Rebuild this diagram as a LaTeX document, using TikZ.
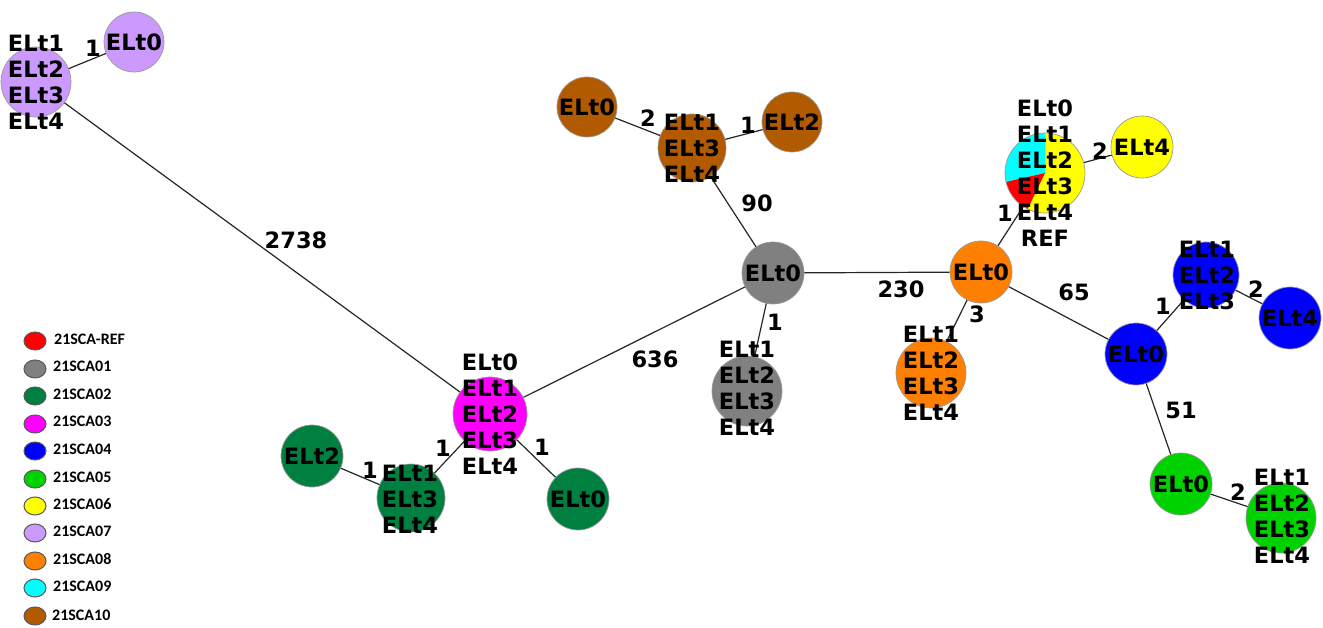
\documentclass[tikz,border=0pt]{standalone}
\usepackage{fontspec}
\setmainfont{DejaVu Sans}
\newfontfamily\legfont{Carlito}
\usetikzlibrary{shapes.geometric}
\definecolor{clilac}{RGB}{204,153,255}
\definecolor{cbrown}{RGB}{178,90,0}
\definecolor{cgray}{RGB}{128,128,128}
\definecolor{corange}{RGB}{255,128,0}
\definecolor{cyellow}{RGB}{255,255,0}
\definecolor{ccyan}{RGB}{0,255,255}
\definecolor{cred}{RGB}{255,0,0}
\definecolor{cmagenta}{RGB}{255,0,255}
\definecolor{cdgreen}{RGB}{0,128,64}
\definecolor{cblue}{RGB}{0,0,255}
\definecolor{clime}{RGB}{0,210,0}
\begin{document}
\begin{tikzpicture}[x=1pt,y=-1pt,
  nd/.style={circle, draw=black!40, line width=0.7pt, inner sep=0pt, minimum size=#1},
  txt/.style={font=\bfseries\fontsize{22.5}{26}\selectfont, align=center, inner sep=0pt},
  lbl/.style={font=\bfseries\fontsize{22.5}{26}\selectfont, inner sep=0pt},
  edge/.style={draw=black!85, line width=1.2pt},
  lg/.style={ellipse, draw=black!65, line width=1pt, minimum width=22pt, minimum height=18pt, inner sep=0pt},
  lgt/.style={font=\legfont\bfseries\fontsize{16}{18}\selectfont, anchor=west, inner sep=0pt}]
\useasboundingbox[fill=white] (0,0) rectangle (1323,628);

% pie slices
\coordinate (pc) at (1045,173);
\fill[cyellow] (pc) -- ++(-115.7:40pt) arc[start angle=-115.7, end angle=90, radius=40pt] -- cycle;
\fill[ccyan] (pc) -- ++(90:40pt) arc[start angle=90, end angle=192.9, radius=40pt] -- cycle;
\fill[cred] (pc) -- ++(192.9:40pt) arc[start angle=192.9, end angle=244.3, radius=40pt] -- cycle;

% circles
\node[nd=60pt, fill=clilac] (lilA) at (134,42) {};
\node[nd=70pt, fill=clilac] (lilB) at (36,82) {};
\node[nd=60pt, fill=cbrown] (brA) at (587,107) {};
\node[nd=68pt, fill=cbrown] (brB) at (692,148) {};
\node[nd=60pt, fill=cbrown] (brC) at (792,122) {};
\node[nd=62pt, fill=cgray] (grA) at (773,273) {};
\node[nd=70pt, fill=cgray] (grB) at (747,391) {};
\node[nd=62pt, fill=corange] (orA) at (981,272) {};
\node[nd=70pt, fill=corange] (orB) at (931,373) {};
\node[nd=80pt] (pie) at (pc) {};
\node[nd=62pt, fill=cyellow] (yeA) at (1142,147) {};
\node[nd=74pt, fill=cmagenta] (mag) at (490,414) {};
\node[nd=62pt, fill=cdgreen] (dgA) at (312,456) {};
\node[nd=68pt, fill=cdgreen] (dgB) at (411,498) {};
\node[nd=62pt, fill=cdgreen] (dgC) at (578,499) {};
\node[nd=62pt, fill=cblue] (blA) at (1136,354) {};
\node[nd=66pt, fill=cblue] (blB) at (1206,275) {};
\node[nd=62pt, fill=cblue] (blC) at (1290,318) {};
\node[nd=62pt, fill=clime] (liA) at (1181,484) {};
\node[nd=70pt, fill=clime] (liB) at (1281,518) {};

% edges
\draw[edge] (lilB) -- (lilA);
\draw[edge] (lilB) -- (mag);
\draw[edge] (mag) -- (grA);
\draw[edge] (mag) -- (dgB);
\draw[edge] (mag) -- (dgC);
\draw[edge] (dgB) -- (dgA);
\draw[edge] (grA) -- (brB);
\draw[edge] (brB) -- (brA);
\draw[edge] (brB) -- (brC);
\draw[edge] (grA) -- (grB);
\draw[edge] (grA) -- (orA);
\draw[edge] (orA) -- (orB);
\draw[edge] (orA) -- (pie);
\draw[edge] (pie) -- (yeA);
\draw[edge] (orA) -- (blA);
\draw[edge] (blA) -- (blB);
\draw[edge] (blB) -- (blC);
\draw[edge] (blA) -- (liA);
\draw[edge] (liA) -- (liB);

% node texts
\node[txt] (tlilA) at (134,42) {ELt0};
\node[txt] (tlilB) at (36,82) {ELt1\\ELt2\\ELt3\\ELt4};
\node[txt] (tbrA) at (587,107) {ELt0};
\node[txt] (tbrB) at (692,148) {ELt1\\ELt3\\ELt4};
\node[txt] (tbrC) at (792,122) {ELt2};
\node[txt] (tgrA) at (773,273) {ELt0};
\node[txt] (tgrB) at (747,388) {ELt1\\ELt2\\ELt3\\ELt4};
\node[txt] (torA) at (981,272) {ELt0};
\node[txt] (torB) at (931,373) {ELt1\\ELt2\\ELt3\\ELt4};
\node[txt] (tpie) at (1045,173) {ELt0\\ELt1\\ELt2\\ELt3\\ELt4\\REF};
\node[txt] (tyeA) at (1142,147) {ELt4};
\node[txt] (tmag) at (490,414) {ELt0\\ELt1\\ELt2\\ELt3\\ELt4};
\node[txt] (tdgA) at (312,456) {ELt2};
\node[txt] (tdgB) at (410,499) {ELt1\\ELt3\\ELt4};
\node[txt] (tdgC) at (578,499) {ELt0};
\node[txt] (tblA) at (1136,354) {ELt0};
\node[txt] (tblB) at (1207,275) {ELt1\\ELt2\\ELt3};
\node[txt] (tblC) at (1290,318) {ELt4};
\node[txt] (tliA) at (1181,484) {ELt0};
\node[txt] (tliB) at (1282,516) {ELt1\\ELt2\\ELt3\\ELt4};

% edge labels
\node[lbl] (e1) at (93,48) {1};
\node[lbl] (e2) at (296,240) {2738};
\node[lbl] (e3) at (655,359) {636};
\node[lbl] (e4) at (370,470) {1};
\node[lbl] (e5) at (443,448) {1};
\node[lbl] (e6) at (542,447) {1};
\node[lbl] (e7) at (757,203) {90};
\node[lbl] (e8) at (648,118) {2};
\node[lbl] (e9) at (748,125) {1};
\node[lbl] (e10) at (775,322) {1};
\node[lbl] (e11) at (901,289) {230};
\node[lbl] (e12) at (977,314) {3};
\node[lbl] (e13) at (1005,213) {1};
\node[lbl] (e14) at (1100,151) {2};
\node[lbl] (e15) at (1074,292) {65};
\node[lbl] (e16) at (1163,306) {1};
\node[lbl] (e17) at (1256,289) {2};
\node[lbl] (e18) at (1181,410) {51};
\node[lbl] (e19) at (1238,492) {2};

% legend
\node[lg, fill=cred] (l0) at (35,341) {};
\node[lg, fill=cgray] (l1) at (35,369) {};
\node[lg, fill=cdgreen] (l2) at (35,396) {};
\node[lg, fill=cmagenta] (l3) at (35,424) {};
\node[lg, fill=cblue] (l4) at (35,451) {};
\node[lg, fill=clime] (l5) at (35,479) {};
\node[lg, fill=cyellow] (l6) at (35,506) {};
\node[lg, fill=clilac] (l7) at (35,533) {};
\node[lg, fill=corange] (l8) at (35,561) {};
\node[lg, fill=ccyan] (l9) at (35,588) {};
\node[lg, fill=cbrown] (l10) at (35,616) {};
\node[lgt] (lt0) at (54,339) {21SCA-REF};
\node[lgt] (lt1) at (53,366) {21SCA01};
\node[lgt] (lt2) at (53,394) {21SCA02};
\node[lgt] (lt3) at (53,421) {21SCA03};
\node[lgt] (lt4) at (53,449) {21SCA04};
\node[lgt] (lt5) at (53,477) {21SCA05};
\node[lgt] (lt6) at (53,504) {21SCA06};
\node[lgt] (lt7) at (53,531) {21SCA07};
\node[lgt] (lt8) at (53,559) {21SCA08};
\node[lgt] (lt9) at (53,586) {21SCA09};
\node[lgt] (lt10) at (52,615) {21SCA10};
\end{tikzpicture}
\end{document}
